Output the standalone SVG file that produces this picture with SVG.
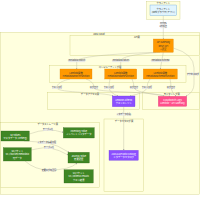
<svg xmlns="http://www.w3.org/2000/svg" width="200" height="200" viewBox="0 0 200 200">
<style>
text{font-family:"Noto Sans CJK JP","Noto Sans",sans-serif;text-anchor:middle;dominant-baseline:central}
.cl{fill:#ffffde;stroke:#c8c870;stroke-width:0.35}
.cll{font-size:2.3px;fill:#333}
.e{fill:none;stroke:#b8b8a0;stroke-width:0.4;marker-end:url(#ah)}
.lb{fill:#e6e6e6;opacity:0.9}
.lt{font-size:2.1px;fill:#333}
.or{fill:#ff9900;stroke:#d98000;stroke-width:0.3}
.pu{fill:#8c4fff;stroke:#6a35d9;stroke-width:0.3}
.pk{fill:#ff4f8b;stroke:#d93a70;stroke-width:0.3}
.gr{fill:#3f8624;stroke:#2d6119;stroke-width:0.3}
.nt{font-size:2.3px;fill:#333}
.wt{font-size:2.3px;fill:#fff}
</style>
<defs>
<marker id="ah" viewBox="0 0 10 10" refX="9" refY="5" markerWidth="4" markerHeight="4" orient="auto"><path d="M0,0L10,5L0,10z" fill="#999"/></marker>
</defs>
<rect width="200" height="200" fill="#fff"/>
<g id="clusters">
<rect class="cl" x="146.7" y="1.7" width="33.3" height="17.6"/>
<text class="cll" x="163.3" y="3.4">クライアント</text>
<rect class="cl" x="0.3" y="32.3" width="199.4" height="162"/>
<text class="cll" x="99" y="33.8">AWS Cloud</text>
<rect class="cl" x="70" y="35.7" width="129.7" height="20"/>
<text class="cll" x="137" y="37.2">API層</text>
<rect class="cl" x="49.3" y="65.7" width="136.7" height="16.6"/>
<text class="cll" x="110" y="67">コンピューティング層</text>
<rect class="cl" x="47.3" y="92.3" width="92" height="17"/>
<text class="cll" x="90" y="93.8">データアクセス層</text>
<rect class="cl" x="142.3" y="92.3" width="57.4" height="17"/>
<text class="cll" x="171.7" y="93.8">モニタリング層</text>
<rect class="cl" x="104" y="119" width="39.3" height="72.7"/>
<text class="cll" x="124" y="120.6">データカタログ層</text>
<rect class="cl" x="0.3" y="122.7" width="99" height="65"/>
<text class="cll" x="47.7" y="124.2">データストレージ層</text>
</g>
<g id="connectors">
<path class="e" d="M163.3,15.7L163.3,39"/>
<path class="e" d="M156,52.3Q80,55 76.7,61L76.7,69"/>
<path class="e" d="M160,52.3Q121,55 120.7,61L120.7,69"/>
<path class="e" d="M163.3,52.3L160.3,69"/>
<path class="e" d="M173.3,48Q194,54 194,68L194,84Q194,92 186,96.3"/>
<path class="e" d="M70,79C57,82 57,86 57,88C57,93 105,92 113,96"/>
<path class="e" d="M86,79C94,82 94,86 94,88C94,93 155,91 164,96.3"/>
<path class="e" d="M110,79Q109,83 109,88Q110,93 118,96"/>
<path class="e" d="M132,79Q134,83 134,88Q136,93 170,96.3"/>
<path class="e" d="M150,79Q147,83 147,88Q145,93 130,96"/>
<path class="e" d="M170,79Q171,83 171,88Q172,93 176,96.3"/>
<path class="e" d="M123.7,106.7L123.7,150.3"/>
<path class="e" d="M29.3,134Q48,127 63.3,132.5"/>
<path class="e" d="M24,141Q40,142 46.7,142.7Q58,145 69,152.3"/>
<path class="e" d="M31.3,150Q45,147 49,147.7Q60,150 68,155"/>
<path class="e" d="M25,161Q35,170 49,170Q70,170 77,163"/>
<g id="labels">
<rect class="lb" x="160.3" y="22.2" width="6" height="6"/>
<text class="lt" x="163.3" y="23.7">HTTPS</text>
<text class="lt" x="163.3" y="26.6">API呼出</text>
<rect class="lb" x="68.2" y="59.5" width="17" height="2.6"/>
<text class="lt" x="76.7" y="60.8">/metadata/search</text>
<rect class="lb" x="112.2" y="59.5" width="17" height="2.6"/>
<text class="lt" x="120.7" y="60.8">/metadata/tables</text>
<rect class="lb" x="151.3" y="59.5" width="18" height="2.6"/>
<text class="lt" x="160.3" y="60.8">/metadata/schema</text>
<rect class="lb" x="187" y="72.7" width="12" height="2.6"/>
<text class="lt" x="193" y="74">アクセスログ</text>
<rect class="lb" x="52" y="86.4" width="10" height="2.6"/>
<text class="lt" x="57" y="87.7">クエリ実行</text>
<rect class="lb" x="90" y="86.4" width="8" height="2.6"/>
<text class="lt" x="94" y="87.7">ログ出力</text>
<rect class="lb" x="104" y="86.4" width="10" height="2.6"/>
<text class="lt" x="109" y="87.7">クエリ実行</text>
<rect class="lb" x="130" y="86.4" width="8" height="2.6"/>
<text class="lt" x="134" y="87.7">ログ出力</text>
<rect class="lb" x="142" y="86.4" width="10" height="2.6"/>
<text class="lt" x="147" y="87.7">クエリ実行</text>
<rect class="lb" x="167" y="86.4" width="8" height="2.6"/>
<text class="lt" x="171" y="87.7">ログ出力</text>
<rect class="lb" x="116.7" y="113" width="14" height="2.6"/>
<text class="lt" x="123.7" y="114.3">メタデータ参照</text>
<rect class="lb" x="43" y="128.2" width="10" height="2.6"/>
<text class="lt" x="48" y="129.5">テーブル化</text>
<rect class="lb" x="37.7" y="141.4" width="18" height="2.6"/>
<text class="lt" x="46.7" y="142.7">メタデータ情報管理</text>
<rect class="lb" x="44" y="146.4" width="10" height="2.6"/>
<text class="lt" x="49" y="147.7">テーブル化</text>
<rect class="lb" x="42" y="168.7" width="14" height="2.6"/>
<text class="lt" x="49" y="170">変更ログの記録</text>
</g>
</g>
<g id="client"><rect x="150" y="5" width="26.7" height="10.7" fill="#e1f5fe" stroke="#4a90c8" stroke-width="0.3"/>
<text class="nt" x="163.3" y="8.8">クライアント</text><text class="nt" x="163.3" y="11.9">(Webブラウザ/アプリ)</text></g>
<g id="apigw"><rect class="or" x="153.3" y="39" width="20" height="13.3"/>
<text class="nt" x="163.3" y="42.3">API Gateway</text><text class="nt" x="163.3" y="45.5">REST API</text><text class="nt" x="163.3" y="48.7">+認証</text></g>
<g id="lambda1"><rect class="or" x="60" y="69" width="32" height="10"/>
<text class="nt" x="76" y="72.6">Lambda関数</text><text class="nt" x="76" y="75.6">MetadataSearchFunction</text></g>
<g id="lambda2"><rect class="or" x="104.7" y="69" width="32" height="10"/>
<text class="nt" x="120.7" y="72.6">Lambda関数</text><text class="nt" x="120.7" y="75.6">MetadataTablesFunction</text></g>
<g id="lambda3"><rect class="or" x="143.3" y="69" width="34" height="10"/>
<text class="nt" x="160.3" y="72.6">Lambda関数</text><text class="nt" x="160.3" y="75.6">MetadataSchemaFunction</text></g>
<g id="athena"><rect class="pu" x="112.3" y="96" width="22.7" height="10.7"/>
<text class="wt" x="123.7" y="99.8">Amazon Athena</text><text class="wt" x="123.7" y="102.9">クエリエンジン</text></g>
<g id="cloudwatch"><rect class="pk" x="158.3" y="96.3" width="28.4" height="10"/>
<text class="wt" x="172.5" y="99.8">CloudWatch Logs</text><text class="wt" x="172.5" y="102.8">Lambda・API Gateway</text></g>
<g id="glue"><rect class="pu" x="109" y="150.3" width="29.3" height="10"/>
<text class="wt" x="123.7" y="153.8">AWS Glue Data Catalog</text><text class="wt" x="123.7" y="156.8">メタデータカタログ</text></g>
<g id="s3tables"><rect class="gr" x="1" y="131" width="28.3" height="10"/>
<text class="wt" x="15.2" y="134.5">S3 Tables</text><text class="wt" x="15.2" y="137.5">マスタデータ (Iceberg)</text></g>
<g id="inventory"><rect class="gr" x="63.3" y="127.7" width="31" height="10.3"/>
<text class="wt" x="78.8" y="131.3">Inventory Table</text><text class="wt" x="78.8" y="134.4">インベントリメタデータ</text></g>
<g id="s3bucket"><rect class="gr" x="3.3" y="147.7" width="28" height="13.3"/>
<text class="wt" x="17.3" y="151.1">S3バケット</text><text class="wt" x="17.3" y="154.3">s3://bucket/metadata</text><text class="wt" x="17.3" y="157.5">元データ</text></g>
<g id="journal"><rect class="gr" x="68" y="152.3" width="21.3" height="10.7"/>
<text class="wt" x="78.7" y="156.1">Journal Table</text><text class="wt" x="78.7" y="159.2">変更履歴</text></g>
<g id="s3results"><rect class="gr" x="64" y="169.7" width="29.3" height="13.3"/>
<text class="wt" x="78.7" y="173.1">S3バケット</text><text class="wt" x="78.7" y="176.3">s3://athena-results</text><text class="wt" x="78.7" y="179.5">クエリ結果</text></g>
</svg>
